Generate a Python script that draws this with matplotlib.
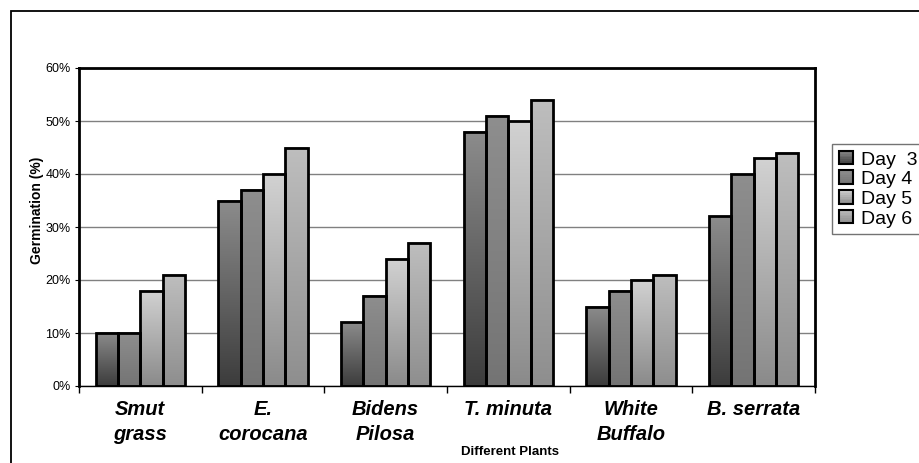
import numpy as np
import matplotlib
matplotlib.use("Agg")
from matplotlib import pyplot as plt
from matplotlib.patches import Rectangle
from matplotlib.colors import LinearSegmentedColormap
from matplotlib.legend_handler import HandlerBase
from matplotlib.ticker import PercentFormatter

plants = ["Smut\ngrass", "E.\ncorocana", "Bidens\nPilosa", "T. minuta", "White\nBuffalo", "B. serrata"]
days = ["Day  3", "Day 4", "Day 5", "Day 6"]
day3 = [10, 35, 12, 48, 15, 32]
day4 = [10, 37, 17, 51, 18, 40]
day5 = [18, 40, 24, 50, 20, 43]
day6 = [21, 45, 27, 54, 21, 44]
series = [day3, day4, day5, day6]

# bottom -> top shade of each series
shades = [("#3c3c3c", "#8c8c8c"), ("#747474", "#8e8e8e"),
          ("#8a8a8a", "#d2d2d2"), ("#8e8e8e", "#bebebe")]
cmaps = [LinearSegmentedColormap.from_list("d%d" % i, s) for i, s in enumerate(shades)]

FONT = "Liberation Sans"


class GradientSquare(HandlerBase):
    # legend key: small square filled with the series gradient
    def create_artists(self, legend, orig, xd, yd, w, h, fontsize, trans):
        cmap = cmaps[orig.get_gid()]
        n = 8
        arts = []
        for k in range(n):
            arts.append(Rectangle((xd, yd + h * k / n), w, h / n + 0.2,
                                  facecolor=cmap((k + 0.5) / n), edgecolor="none",
                                  transform=trans))
        arts.append(Rectangle((xd, yd), w, h, facecolor="none", edgecolor="black",
                              linewidth=1.5, transform=trans))
        return arts


fig = plt.figure(figsize=(9.2, 4.63), dpi=100)
fig.patches.append(Rectangle((11/920, -0.05), 1.0, 1.05 - 11/463, transform=fig.transFigure,
                             fill=False, edgecolor="black", linewidth=1.3))
ax = fig.add_axes([79/920, 1 - 386/463, 736/920, 318/463])

grad = np.linspace(0, 1, 256).reshape(-1, 1)
width = 0.182
x = np.arange(len(plants))
for i, vals in enumerate(series):
    pos = x - 1.5 * width + i * width
    for p, v in zip(pos, vals):
        ax.imshow(grad, cmap=cmaps[i], origin="lower", aspect="auto",
                  extent=(p - width / 2, p + width / 2, 0, v), zorder=2)
    ax.bar(pos, vals, width, facecolor="none", edgecolor="black", linewidth=2, zorder=3)

ax.set_xlim(-0.5, len(plants) - 0.5)
ax.set_ylim(0, 60)
ax.set_yticks(range(0, 61, 10))
ax.yaxis.set_major_formatter(PercentFormatter(decimals=0))
ax.yaxis.grid(True, color="#808080", linewidth=1, zorder=0)
ax.set_axisbelow(True)
for s in ax.spines.values():
    s.set_linewidth(2)
ax.spines["bottom"].set_linewidth(1)
ax.tick_params(axis="y", labelsize=9, length=3, pad=3)
for t in ax.get_yticklabels():
    t.set_family(FONT)

ax.set_xticks(np.arange(len(plants) + 1) - 0.5)
ax.set_xticklabels([])
ax.tick_params(axis="x", length=5, width=1)
for xi, name in zip(x, plants):
    ax.text(xi, -0.045, name, transform=ax.get_xaxis_transform(), ha="center", va="top",
            fontsize=14.5, fontweight="bold", fontstyle="italic", family=FONT,
            linespacing=1.4)
ax.text(0.586, -0.19, "Different Plants", transform=ax.transAxes, ha="center", va="top",
        fontsize=9.5, fontweight="bold", family=FONT)
ax.set_ylabel("Germination (%)", fontsize=10, fontweight="bold", family=FONT)
ax.yaxis.set_label_coords(-0.047, 0.553)

handles = []
for i in range(4):
    r = Rectangle((0, 0), 1, 1)
    r.set_gid(i)
    handles.append(r)
leg = fig.legend(handles, days, loc="upper left", bbox_to_anchor=(832/920, 1 - 144/463),
                 frameon=True, fancybox=False, edgecolor="#505050",
                 handlelength=0.72, handleheight=0.72, handletextpad=0.4,
                 borderpad=0.35, labelspacing=0.1, borderaxespad=0,
                 handler_map={Rectangle: GradientSquare()},
                 prop={"family": FONT, "size": 14})
leg.get_frame().set_linewidth(1)

fig.savefig("out.png", dpi=100)
